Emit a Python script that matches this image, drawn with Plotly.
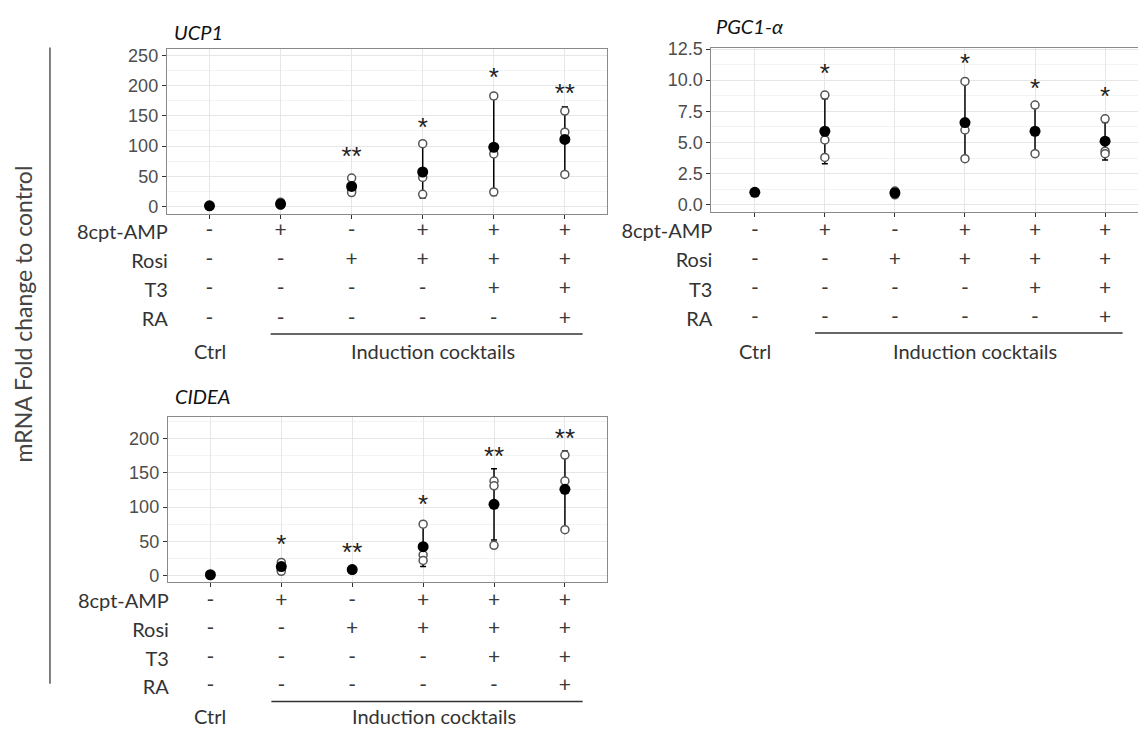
import plotly.graph_objects as go

OFF = 8  # page body margin in the browser
W, H = 1146 - OFF, 733 - OFF

# ---- data ----
groups = [1, 2, 3, 4, 5, 6]
treat_rows = ["8cpt-AMP", "Rosi", "T3", "RA"]
treat_signs = [
    ["-", "+", "-", "+", "+", "+"],
    ["-", "-", "+", "+", "+", "+"],
    ["-", "-", "-", "-", "+", "+"],
    ["-", "-", "-", "-", "-", "+"],
]
ctrl_label = "Ctrl"
cocktail_label = "Induction cocktails"
y_title = "mRNA Fold change to control"

ucp1_reps = [[1, 1, 1], [2, 4, 7], [47, 26, 23], [104, 48, 20], [183, 87, 24], [158, 123, 53]]
ucp1_mean = [1, 4, 33, 57, 98, 111]
ucp1_sd = [0.4, 2.5, 12, 43, 80, 54]
ucp1_stars = ["", "", "**", "*", "*", "**"]
ucp1_star_y = [None, None, 80, 128, 211, 183]

pgc_reps = [[1.0, 1.0, 1.0], [8.8, 5.2, 3.8], [0.8, 1.1, 1.0], [9.9, 6.0, 3.7], [8.0, 5.9, 4.1], [6.9, 4.3, 4.1]]
pgc_mean = [1.0, 5.9, 0.95, 6.6, 5.9, 5.1]
pgc_sd = [0.05, 2.6, 0.15, 3.1, 1.95, 1.5]
pgc_stars = ["", "*", "", "*", "*", "*"]
pgc_star_y = [None, 10.4, None, 11.2, 9.2, 8.5]

cidea_reps = [[1, 1, 1], [19, 8, 6], [8, 9, 8], [75, 30, 22], [138, 131, 44], [176, 138, 67]]
cidea_mean = [1, 13, 8.5, 42, 104, 126]
cidea_sd = [0.4, 6, 0.5, 29, 52, 56]
cidea_stars = ["", "*", "**", "*", "**", "**"]
cidea_star_y = [None, 42, 30, 101, 171, 197]

FONT_TXT = "Lato"
FONT_NUM = "Liberation Sans"


def px(x):
    return (x - OFF) / W


def py(y):
    return 1 - (y - OFF) / H


panels = [
    dict(n=1, title="UCP1", reps=ucp1_reps, mean=ucp1_mean, sd=ucp1_sd,
         stars=ucp1_stars, star_y=ucp1_star_y,
         box=(167, 42, 608, 209), tbox=(212, 331), xr=[0.4, 6.6], yr=[-12.5, 260],
         dtick=50, title_at=(172, 24), shift=-17),
    dict(n=3, title="PGC1-α", reps=pgc_reps, mean=pgc_mean, sd=pgc_sd,
         stars=pgc_stars, star_y=pgc_star_y,
         box=(712, 40, 1146, 207), tbox=(212, 330), xr=[0.38, 6.57], yr=[-0.58, 12.62],
         dtick=2.5, title_at=(715, 18), shift=-18),
    dict(n=5, title="CIDEA", reps=cidea_reps, mean=cidea_mean, sd=cidea_sd,
         stars=cidea_stars, star_y=cidea_star_y,
         box=(168, 415, 608, 583), tbox=(588, 704), xr=[0.4, 6.6], yr=[-10, 232],
         dtick=50, title_at=(173, 394), shift=-15),
]

fig = go.Figure()
annotations = []
shapes = []
layout_axes = {}

for p in panels:
    n = p["n"]
    xa = "x" if n == 1 else f"x{n}"
    ya = "y" if n == 1 else f"y{n}"
    xt, yt = f"x{n + 1}", f"y{n + 1}"
    x0, y0, x1, y1 = p["box"]

    # error bars (drawn first, under the circles)
    fig.add_trace(go.Scatter(
        x=groups, y=p["mean"], mode="markers", xaxis=xa, yaxis=ya,
        marker=dict(size=1, color="rgba(0,0,0,0)"),
        error_y=dict(type="data", array=p["sd"], visible=True,
                     color="black", thickness=1.5, width=3),
        showlegend=False, hoverinfo="skip"))
    # replicates
    rx = [g for g, r in zip(groups, p["reps"]) for _ in r]
    ry = [v for r in p["reps"] for v in r]
    fig.add_trace(go.Scatter(
        x=rx, y=ry, mode="markers", xaxis=xa, yaxis=ya,
        marker=dict(size=8, color="white", line=dict(color="#555555", width=1.5)),
        showlegend=False))
    # means
    fig.add_trace(go.Scatter(
        x=groups, y=p["mean"], mode="markers", xaxis=xa, yaxis=ya,
        marker=dict(size=11, color="black"), showlegend=False))
    # significance stars
    fig.add_trace(go.Scatter(
        x=groups, y=p["star_y"], text=p["stars"], mode="text", xaxis=xa, yaxis=ya,
        textposition="middle center", cliponaxis=False,
        textfont=dict(family=FONT_NUM, size=26, color="#222222"),
        showlegend=False, hoverinfo="skip"))

    # treatment table
    tx = [g for _ in treat_rows for g in groups]
    ty = [r for r in treat_rows for _ in groups]
    tt = [s for row in treat_signs for s in row]
    fig.add_trace(go.Scatter(
        x=tx, y=ty, text=tt, mode="text", xaxis=xt, yaxis=yt,
        textfont=dict(family=FONT_TXT, size=21, color="#3a3a3a"),
        showlegend=False, hoverinfo="skip"))

    grid = "#e6e6e6"
    layout_axes["xaxis" if n == 1 else f"xaxis{n}"] = dict(
        domain=[px(x0), min(px(x1), 1)], anchor=ya, range=p["xr"],
        tickvals=groups, showticklabels=False, ticks="outside", ticklen=4,
        tickcolor="#333333", showgrid=True, gridcolor=grid, zeroline=False,
        showline=True, mirror=True, linecolor="#8a8a8a", linewidth=1.2)
    layout_axes["yaxis" if n == 1 else f"yaxis{n}"] = dict(
        domain=[py(y1), py(y0)], anchor=xa, range=p["yr"], dtick=p["dtick"],
        tick0=0, ticks="outside", ticklen=4, tickcolor="#333333",
        tickfont=dict(family=FONT_NUM, size=18, color="#4d4d4d"),
        tickformat=".1f" if p["dtick"] < 5 else "d",
        showgrid=True, gridcolor=grid, zeroline=False,
        minor=dict(showgrid=True, gridcolor="#f3f3f3", dtick=p["dtick"] / 2),
        showline=True, mirror=True, linecolor="#8a8a8a", linewidth=1.2)

    ty0, ty1 = p["tbox"]
    layout_axes[f"xaxis{n + 1}"] = dict(
        domain=[px(x0), min(px(x1), 1)], anchor=yt, range=p["xr"], visible=False)
    layout_axes[f"yaxis{n + 1}"] = dict(
        domain=[py(ty1), py(ty0)], anchor=xt, type="category",
        categoryarray=treat_rows, range=[3.5, -0.5],
        showgrid=False, zeroline=False, showline=False, ticks="",
        ticklabelstandoff=-2,
        tickfont=dict(family=FONT_TXT, size=20, color="#333333"))

    shapes.append(dict(type="line", xref=xt, yref=f"{yt} domain",
                       x0=1.86, x1=6.25, y0=0, y1=0,
                       line=dict(color="#333333", width=1.5)))
    for lab, xpos in [(ctrl_label, 1), (cocktail_label, 4.15)]:
        annotations.append(dict(text=lab, xref=xt, yref=f"{yt} domain", x=xpos, y=0,
                                yshift=p["shift"], xanchor="center", yanchor="middle",
                                showarrow=False,
                                font=dict(family=FONT_TXT, size=20, color="#333333")))

    tx_, ty_ = p["title_at"]
    annotations.append(dict(text=f"<i>{p['title']}</i>", xref="paper", yref="paper",
                            x=px(tx_), y=py(ty_), xanchor="left", yanchor="middle",
                            showarrow=False,
                            font=dict(family=FONT_TXT, size=20, color="#111111")))

annotations.append(dict(text=y_title, xref="paper", yref="paper", x=px(23), y=py(310),
                        textangle=-90, xanchor="center", yanchor="middle", showarrow=False,
                        font=dict(family=FONT_TXT, size=23, color="#444444")))
shapes.append(dict(type="line", xref="paper", yref="paper", x0=px(50), x1=px(50),
                   y0=py(40), y1=py(686), line=dict(color="#555555", width=1.5)))

fig.update_layout(
    width=W, height=H,
    margin=dict(l=0, r=0, t=0, b=0),
    paper_bgcolor="white", plot_bgcolor="white",
    annotations=annotations, shapes=shapes,
    showlegend=False,
    **layout_axes)

fig.write_html("out.html")
